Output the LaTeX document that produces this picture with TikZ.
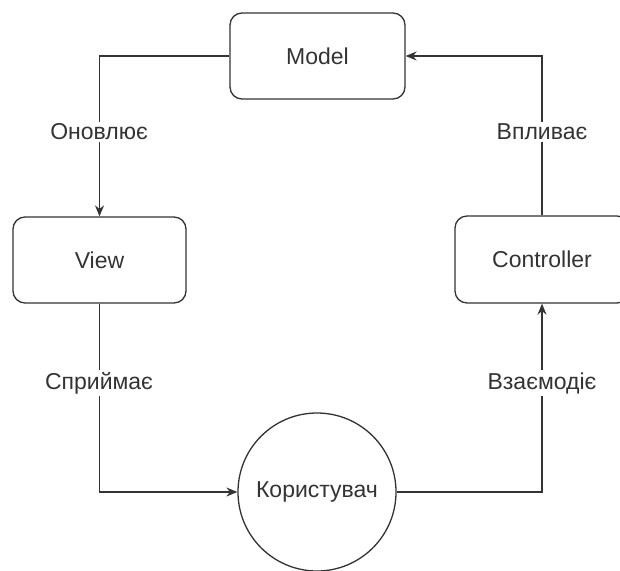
\documentclass[tikz,border=0pt]{standalone}
\usepackage{fontspec}
\setmainfont{Liberation Sans}
\usetikzlibrary{arrows.meta}
\definecolor{ink}{HTML}{333333}
\tikzset{
  box/.style={draw=ink, line width=1.3pt, rounded corners=12pt, minimum width=174pt,
    minimum height=86pt, text=ink, font=\fontsize{23}{27}\selectfont},
  usr/.style={draw=ink, line width=1.3pt, circle, minimum size=158pt, inner sep=0pt,
    text=ink, font=\fontsize{23}{27}\selectfont},
  link/.style={draw=ink, line width=1.3pt, -{Stealth[length=11pt,width=9pt]}},
  lbl/.style={fill=white, text=ink, inner sep=2pt, font=\fontsize{23}{27}\selectfont}
}
\begin{document}
\begin{tikzpicture}[x=1pt,y=-1pt]
  \useasboundingbox (0,0) rectangle (620,570);
  % components
  \node[box, minimum width=175pt] (model) at (317.5,56) {Model};
  \node[box, minimum width=173pt] (view) at (99.5,260) {View};
  \node[box, minimum height=87pt] (ctrl) at (542,259.5) {Controller};
  \node[usr] (user) at (317,492) {Користувач};
  % connectors
  \draw[link] (model.west) -| (view.north);
  \draw[link] (view.south) |- (user.west);
  \draw[link] (user.east) -| (ctrl.south);
  \draw[link] (ctrl.north) |- (model.east);
  % labels
  \node[lbl] (l1) at (99,132) {Оновлює};
  \node[lbl] (l2) at (542,132) {Впливає};
  \node[lbl] (l3) at (99,383) {Сприймає};
  \node[lbl] (l4) at (542,383) {Взаємодіє};
\end{tikzpicture}
\end{document}
